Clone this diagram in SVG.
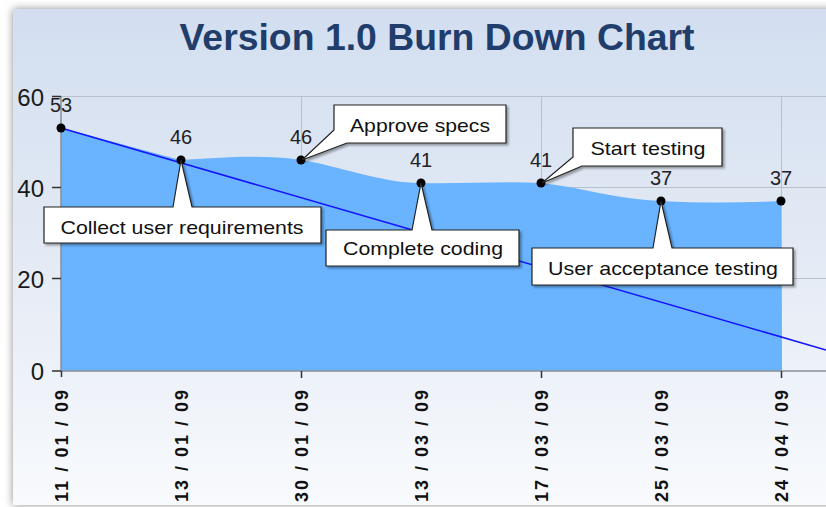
<svg xmlns="http://www.w3.org/2000/svg" width="826" height="507" viewBox="0 0 826 507">
<defs>
<linearGradient id="bg" x1="0" y1="0" x2="0" y2="1">
<stop offset="0" stop-color="#d2def0"/>
<stop offset="0.45" stop-color="#e2e9f4"/>
<stop offset="1" stop-color="#f8fafd"/>
</linearGradient>
<filter id="pshadow" x="-5%" y="-5%" width="110%" height="110%">
<feGaussianBlur stdDeviation="4"/>
</filter>
<filter id="cshadow" x="-10%" y="-20%" width="120%" height="140%">
<feDropShadow dx="2" dy="2" stdDeviation="1.2" flood-color="#000" flood-opacity="0.35"/>
</filter>
<style>
.grid{stroke:#b9c0c9;stroke-width:1;fill:none}
.axis{stroke:#8a8f96;stroke-width:1.5;fill:none}
.tick{stroke:#333;stroke-width:1.5;fill:none}
.ylab{font-family:"Liberation Sans",Arial,sans-serif;font-size:24px;fill:#1a1a1a;text-anchor:end}
.vlab{font-family:"Liberation Sans",Arial,sans-serif;font-size:20px;fill:#222;text-anchor:middle}
.xlab{font-family:"Liberation Sans",Arial,sans-serif;font-size:18px;font-weight:bold;fill:#111}
.dot{fill:#000}
.callout path{fill:#fff;stroke:#222;stroke-width:1.2;filter:url(#cshadow)}
.callout text{font-family:"Liberation Sans",Arial,sans-serif;font-size:19px;fill:#111;text-anchor:middle}
.title{font-family:"Liberation Sans",Arial,sans-serif;font-size:37px;font-weight:bold;fill:#213d6b;text-anchor:middle}
</style>
</defs>
<rect width="826" height="507" fill="#fff"/>
<g id="panel">
<rect x="13" y="9" width="830" height="496" fill="#8c8c8c" filter="url(#pshadow)"/>
<rect x="13" y="9" width="830" height="496" fill="url(#bg)"/>
</g>
<text id="title" class="title" x="437" y="50" textLength="515" lengthAdjust="spacingAndGlyphs">Version 1.0 Burn Down Chart</text>
<g id="grid">
<path class="grid" d="M61,96.5H826M61,187.5H826M61,278.5H826M301.5,96V370M541.5,96V370M781.5,96V370"/>
</g>
<g id="area">
<path fill="#69b3ff" d="M61,128 C100,138 150,152 181,160 C215,158 265,154 301,160 C340,166 380,183 421,183 C460,184 500,181 541,183 C580,187 620,200 661,201 C700,203 740,203 781,201 L782,371 L61,371 Z"/>
</g>
<g id="axes">
<path class="axis" d="M61,96V371H826"/>
<path class="tick" d="M52,187.5H61M52,278.5H61M52,371H61M52,96.5H61M61.5,371V377M301.5,371V378M541.5,371V378M781.5,371V378"/>
<text class="ylab" x="44" y="106">60</text>
<text class="ylab" x="44" y="197">40</text>
<text class="ylab" x="44" y="288">20</text>
<text class="ylab" x="44" y="380">0</text>
</g>
<g id="x-labels">
<text class="xlab" transform="translate(68,502) rotate(-90)" textLength="112" lengthAdjust="spacing">11 / 01 / 09</text>
<text class="xlab" transform="translate(188,502) rotate(-90)" textLength="112" lengthAdjust="spacing">13 / 01 / 09</text>
<text class="xlab" transform="translate(308,502) rotate(-90)" textLength="112" lengthAdjust="spacing">30 / 01 / 09</text>
<text class="xlab" transform="translate(428,502) rotate(-90)" textLength="112" lengthAdjust="spacing">13 / 03 / 09</text>
<text class="xlab" transform="translate(548,502) rotate(-90)" textLength="112" lengthAdjust="spacing">17 / 03 / 09</text>
<text class="xlab" transform="translate(668,502) rotate(-90)" textLength="112" lengthAdjust="spacing">25 / 03 / 09</text>
<text class="xlab" transform="translate(788,502) rotate(-90)" textLength="112" lengthAdjust="spacing">24 / 04 / 09</text>
</g>
<g id="connectors">
<line x1="61" y1="128" x2="826" y2="350" stroke="#1414ff" stroke-width="1.6"/>
</g>
<g id="points">
<circle class="dot" cx="61" cy="128" r="4.5"/>
<circle class="dot" cx="181" cy="160" r="4.5"/>
<circle class="dot" cx="301" cy="160" r="4.5"/>
<circle class="dot" cx="421" cy="183" r="4.5"/>
<circle class="dot" cx="541" cy="183" r="4.5"/>
<circle class="dot" cx="661" cy="201" r="4.5"/>
<circle class="dot" cx="781" cy="201" r="4.5"/>
<text class="vlab" x="61" y="112">53</text>
<text class="vlab" x="181" y="144">46</text>
<text class="vlab" x="301" y="144">46</text>
<text class="vlab" x="421" y="167">41</text>
<text class="vlab" x="541" y="167">41</text>
<text class="vlab" x="661" y="185">37</text>
<text class="vlab" x="781" y="185">37</text>
</g>
<g id="callout-collect" class="callout">
<path d="M44,207H173L181,160L192,207H321V243H44Z"/>
<text x="182" y="234" textLength="243" lengthAdjust="spacingAndGlyphs">Collect user requirements</text>
</g>
<g id="callout-approve" class="callout">
<path d="M334,105H506V143H347L302,160L334,130Z"/>
<text x="420" y="132" textLength="140" lengthAdjust="spacingAndGlyphs">Approve specs</text>
</g>
<g id="callout-coding" class="callout">
<path d="M326,230H412L421,183L432,230H519V266H326Z"/>
<text x="423" y="255" textLength="160" lengthAdjust="spacingAndGlyphs">Complete coding</text>
</g>
<g id="callout-testing" class="callout">
<path d="M573,128H722V166H582L542,183L573,157Z"/>
<text x="648" y="155" textLength="115" lengthAdjust="spacingAndGlyphs">Start testing</text>
</g>
<g id="callout-uat" class="callout">
<path d="M532,248H653L661,201L672,248H793V285H532Z"/>
<text x="663" y="275" textLength="230" lengthAdjust="spacingAndGlyphs">User acceptance testing</text>
</g>
</svg>
